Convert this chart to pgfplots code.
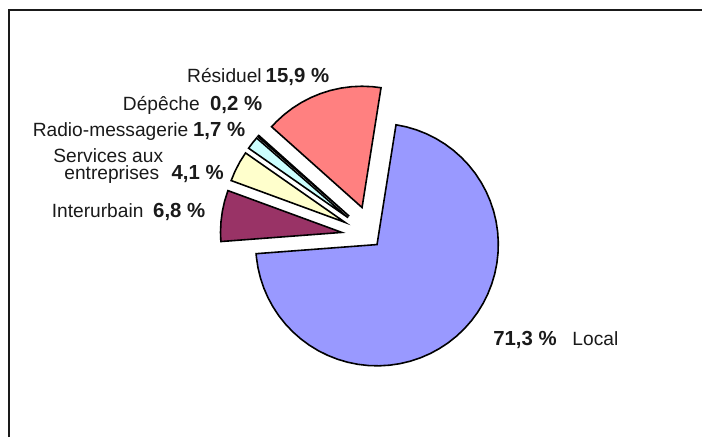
\documentclass[border=0pt]{standalone}
\usepackage{fontspec}
\setmainfont{Liberation Sans}
\usepackage{pgfplots}
\pgfplotsset{compat=1.18}
\definecolor{cLocal}{HTML}{9999FF}
\definecolor{cInter}{HTML}{993366}
\definecolor{cServ}{HTML}{FFFFCC}
\definecolor{cRadio}{HTML}{CCFFFF}
\definecolor{cDep}{HTML}{003366}
\definecolor{cRes}{HTML}{FF8080}
\definecolor{txt}{HTML}{1A1A1A}
\newcommand\lab{\fontsize{19.2bp}{22bp}\selectfont}
\newcommand\num{\fontsize{20.4bp}{22bp}\selectfont\bfseries}
\begin{document}
\begin{tikzpicture}
\begin{axis}[scale only axis, width=703bp, height=438bp,
  xmin=-373.1, xmax=329.9, ymin=-200.9, ymax=237.1,
  hide axis, clip=false,
  every axis plot/.append style={draw=black, line width=1.6bp, data cs=polar}]
\path (axis cs:-373.1,-200.9) rectangle (axis cs:329.9,237.1);
% Local 71.3 %
\addplot[fill=cLocal, shift={(4.6bp,-7.9bp)}] coordinates {(0,0) (81,121.5) (76,121.5) (71,121.5) (66,121.5) (61,121.5) (56,121.5) (51,121.5) (46,121.5) (41,121.5) (36,121.5) (31,121.5) (26,121.5) (21,121.5) (16,121.5) (11,121.5) (6,121.5) (1,121.5) (-4,121.5) (-9,121.5) (-14,121.5) (-19,121.5) (-24,121.5) (-29,121.5) (-34,121.5) (-39,121.5) (-44,121.5) (-49,121.5) (-54,121.5) (-59,121.5) (-64,121.5) (-69,121.5) (-74,121.5) (-79,121.5) (-84,121.5) (-89,121.5) (-94,121.5) (-99,121.5) (-104,121.5) (-109,121.5) (-114,121.5) (-119,121.5) (-124,121.5) (-129,121.5) (-134,121.5) (-139,121.5) (-144,121.5) (-149,121.5) (-154,121.5) (-159,121.5) (-164,121.5) (-169,121.5) (-174,121.5) (-175.68,121.5)} -- cycle;
% Interurbain 6.8 %
\addplot[fill=cInter, shift={(172.08:31bp)}] coordinates {(0,0) (184.32,121.5) (180,121.5) (175,121.5) (170,121.5) (165,121.5) (160,121.5) (159.84,121.5)} -- cycle;
% Services aux entreprises 4.1 %
\addplot[fill=cServ, shift={(152.46:31bp)}] coordinates {(0,0) (159.84,121.5) (155,121.5) (150,121.5) (145.08,121.5)} -- cycle;
% Radio-messagerie 1.7 %
\addplot[fill=cRadio, shift={(142.02:31bp)}] coordinates {(0,0) (145.08,121.5) (142,121.5) (138.96,121.5)} -- cycle;
% Depeche 0.2 %
\addplot[fill=cDep, shift={(138.6:31bp)}] coordinates {(0,0) (138.96,121.5) (138.24,121.5)} -- cycle;
% Residuel 15.9 %
\addplot[fill=cRes, shift={(109.62:31bp)}] coordinates {(0,0) (138.24,121.5) (135,121.5) (130,121.5) (125,121.5) (120,121.5) (115,121.5) (110,121.5) (105,121.5) (100,121.5) (95,121.5) (90,121.5) (85,121.5) (81,121.5)} -- cycle;
% frame
\draw[line width=2.5bp, color=txt] (axis cs:-364.1,-200.9) -- (axis cs:-364.1,227.1) -- (axis cs:329.9,227.1);
% labels
\begin{scope}[every node/.style={anchor=base west, inner sep=0pt, text=txt, font=\lab}]
\node at (axis cs:-185.8,154.4) {Résiduel};
\node[font=\num] at (axis cs:-107.1,154.4) {15,9 \%};
\node at (axis cs:-250.1,126.2) {Dépêche};
\node[font=\num] at (axis cs:-162.8,126.2) {0,2 \%};
\node at (axis cs:-340.4,100.4) {Radio-messagerie};
\node[font=\num] at (axis cs:-179.8,100.4) {1,7 \%};
\node at (axis cs:-319.8,74.3) {Services aux};
\node at (axis cs:-308.8,57.0) {entreprises};
\node[font=\num] at (axis cs:-201.4,57.0) {4,1 \%};
\node at (axis cs:-321.4,18.8) {Interurbain};
\node[font=\num] at (axis cs:-219.8,18.8) {6,8 \%};
\node[font=\num] at (axis cs:120.9,-108.6) {71,3 \%};
\node at (axis cs:200.2,-108.6) {Local};
\end{scope}
\end{axis}
\end{tikzpicture}
\end{document}
